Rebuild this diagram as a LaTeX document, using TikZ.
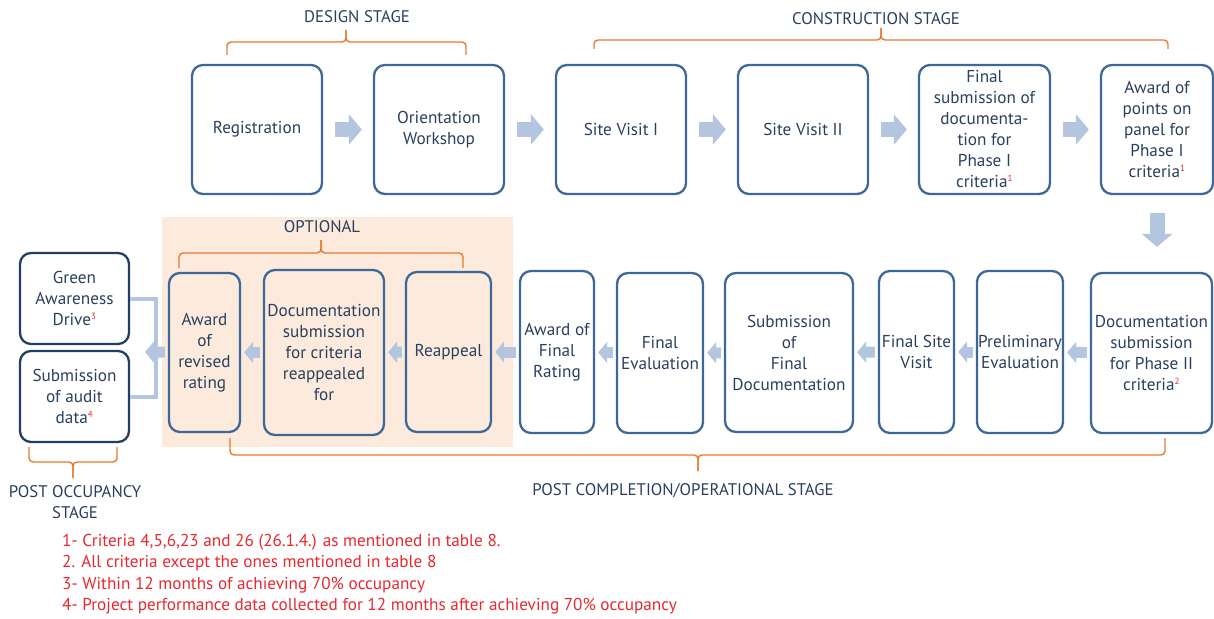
\documentclass[tikz,border=0pt]{standalone}
\usepackage{fontspec}
\setmainfont{PT Sans}
\usetikzlibrary{arrows.meta}

\definecolor{boxblue}{HTML}{3D6898}
\definecolor{boxdark}{HTML}{223F60}
\definecolor{textnavy}{HTML}{2A3F5E}
\definecolor{arrowblue}{HTML}{B3C5DF}
\definecolor{braceorange}{HTML}{E8792E}
\definecolor{shadepeach}{HTML}{FCEBDC}
\definecolor{notered}{HTML}{E8282E}

\newcommand{\fnmark}[1]{\textsuperscript{\textcolor{notered}{\fontsize{9}{9}\selectfont #1}}}

\tikzset{
  stepbox/.style={draw=boxblue, line width=2.3pt, rounded corners=11pt, align=center,
    text=textnavy, inner sep=0pt, font=\fontsize{17.2}{21}\selectfont},
  darkbox/.style={stepbox, draw=boxdark},
  bigarrow/.style={arrowblue, line width=15pt, -{Triangle[length=13pt,width=30pt]},
    shorten <=12pt, shorten >=11pt},
  smallarrow/.style={arrowblue, line width=11pt, -{Triangle[length=9pt,width=21pt]},
    shorten <=3pt, shorten >=3pt},
  stagebrace/.style={braceorange, line width=1.4pt, rounded corners=4pt},
  stagelabel/.style={text=textnavy, align=center, font=\fontsize{16.8}{21}\selectfont},
  notetext/.style={text=notered, anchor=west, inner sep=0pt, font=\fontsize{17.2}{17}\selectfont}
}

\begin{document}
\begin{tikzpicture}[x=1pt, y=-1pt]
  \useasboundingbox (0,0) rectangle (1214,618);

  % Draw the shaded optional area
  \fill[shadepeach] (162,217) rectangle (513,447);

  % Draw the top row (design and construction)
  \node[stepbox, minimum width=130pt, minimum height=129pt] (reg) at (257,129.5) {Registration};
  \node[stepbox, minimum width=130pt, minimum height=129pt] (orient) at (439,129.5) {Orientation\\Workshop};
  \node[stepbox, minimum width=130pt, minimum height=129pt] (site1) at (621,129.5) {Site Visit I};
  \node[stepbox, minimum width=130pt, minimum height=129pt] (site2) at (803,129.5) {Site Visit II};
  \node[stepbox, minimum width=131pt, minimum height=129pt] (finalsub) at (984.5,129.5)
    {Final\\submission of\\documenta-\\tion for\\Phase I\\criteria\fnmark{1}};
  \node[stepbox, minimum width=112pt, minimum height=129pt] (awardpts) at (1157,129.5)
    {Award of\\points on\\panel for\\Phase I\\criteria\fnmark{1}};

  % Draw the bottom row (post completion)
  \node[stepbox, minimum width=121pt, minimum height=160pt] (docphase) at (1151.5,353)
    {Documentation\\submission\\for Phase II\\criteria\fnmark{2}};
  \node[stepbox, minimum width=86pt, minimum height=162pt] (prelim) at (1020,352) {Preliminary\\Evaluation};
  \node[stepbox, minimum width=75pt, minimum height=162pt] (finalsite) at (916.5,352) {Final Site\\Visit};
  \node[stepbox, minimum width=128pt, minimum height=159pt] (subfinal) at (789,352.5)
    {Submission\\of\\Final\\Documentation};
  \node[stepbox, minimum width=86pt, minimum height=160pt] (finaleval) at (660,353) {Final\\Evaluation};
  \node[stepbox, minimum width=74pt, minimum height=162pt] (awardfinal) at (557,352) {Award of\\Final\\Rating};

  % Draw the optional steps
  \node[stepbox, minimum width=85pt, minimum height=160pt] (reappeal) at (448.5,352) {Reappeal};
  \node[stepbox, minimum width=120pt, minimum height=165pt] (docre) at (324,352.5)
    {Documentation\\submission\\for criteria\\reappealed\\for};
  \node[stepbox, minimum width=71pt, minimum height=159pt] (revrate) at (204.5,352.5)
    {Award\\of\\revised\\rating};

  % Draw the post occupancy steps
  \node[darkbox, minimum width=109pt, minimum height=91pt] (green) at (74.5,298.5)
    {Green\\Awareness\\Drive\fnmark{3}};
  \node[darkbox, minimum width=109pt, minimum height=91pt] (audit) at (74.5,396.5)
    {Submission\\of audit\\data\fnmark{4}};

  % Draw the block arrows
  \draw[bigarrow] (reg) -- (orient);
  \draw[bigarrow] (orient) -- (site1);
  \draw[bigarrow] (site1) -- (site2);
  \draw[bigarrow] (site2) -- (finalsub);
  \draw[bigarrow] (finalsub) -- (awardpts);
  \draw[bigarrow, shorten <=18pt, shorten >=25pt] (awardpts) -- (awardpts |- docphase.north);
  \draw[smallarrow] (docphase) -- (prelim);
  \draw[smallarrow] (prelim) -- (finalsite);
  \draw[smallarrow] (finalsite) -- (subfinal);
  \draw[smallarrow] (subfinal) -- (finaleval);
  \draw[smallarrow] (finaleval) -- (awardfinal);
  \draw[smallarrow] (awardfinal) -- (reappeal);
  \draw[smallarrow] (reappeal) -- (docre);
  \draw[smallarrow] (docre) -- (revrate);

  % Draw the join to the post occupancy steps
  \coordinate (join) at (145,352);
  \draw[arrowblue, line width=4pt] (green.east) -- ++(26,0) |- (audit.east);
  \draw[smallarrow, shorten >=0pt] (revrate) -- (join);

  % Draw the stage braces
  \draw[stagebrace] (227,55) -- (227,42) -- (346,42) -- (346,30);
  \draw[stagebrace] (466,55) -- (466,42) -- (346,42) -- (346,30);
  \draw[stagebrace] (594,49) -- (594,40) -- (881,40) -- (881,28);
  \draw[stagebrace] (1168,49) -- (1168,40) -- (881,40) -- (881,28);
  \draw[stagebrace] (179,268) -- (179,253) -- (321,253) -- (321,240);
  \draw[stagebrace] (463,268) -- (463,253) -- (321,253) -- (321,240);
  \draw[stagebrace] (230,438) -- (230,455) -- (698,455) -- (698,471);
  \draw[stagebrace] (1165,438) -- (1165,455) -- (698,455) -- (698,471);
  \draw[stagebrace] (29,447) -- (29,462) -- (73,462) -- (73,478);
  \draw[stagebrace] (117,447) -- (117,462) -- (73,462) -- (73,478);

  % Draw the stage labels
  \node[stagelabel] (design) at (357,17) {DESIGN STAGE};
  \node[stagelabel] (construct) at (876,19) {CONSTRUCTION STAGE};
  \node[stagelabel] (optional) at (322,227) {OPTIONAL};
  \node[stagelabel] (postcomp) at (683,491) {POST COMPLETION/OPERATIONAL STAGE};
  \node[stagelabel] (postocc) at (75,502) {POST OCCUPANCY\\STAGE};

  % Draw the notes
  \node[notetext] (note1) at (62,542) {1- Criteria 4,5,6,23 and 26 (26.1.4.) as mentioned in table 8.};
  \node[notetext] (note2) at (62,563) {2. All criteria except the ones mentioned in table 8};
  \node[notetext] (note3) at (62,585) {3- Within 12 months of achieving 70\% occupancy};
  \node[notetext] (note4) at (62,606) {4- Project performance data collected for 12 months after achieving 70\% occupancy};
\end{tikzpicture}
\end{document}
